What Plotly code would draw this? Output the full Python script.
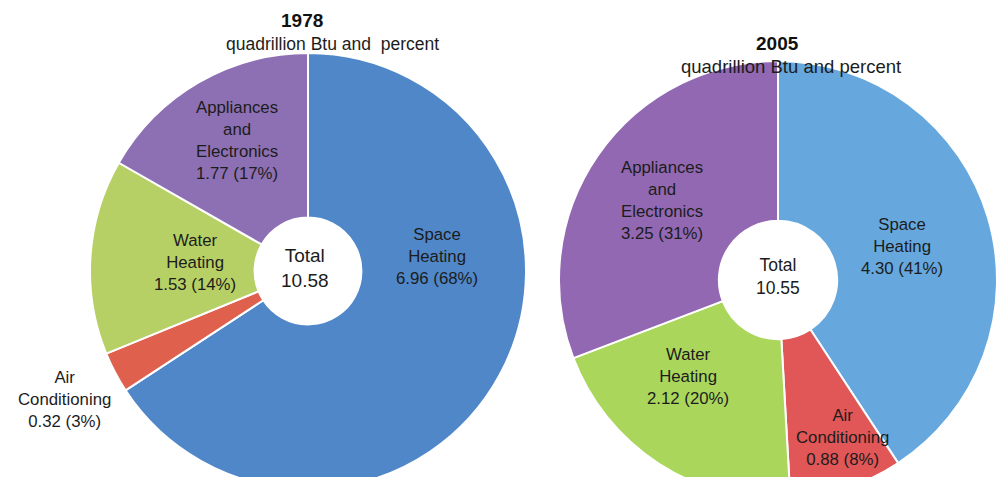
import plotly.graph_objects as go

# ---- data ----
categories = ["Space Heating", "Air Conditioning", "Water Heating", "Appliances and Electronics"]
label_lines = ["Space<br>Heating", "Air<br>Conditioning", "Water<br>Heating", "Appliances<br>and<br>Electronics"]
values_1978 = [6.96, 0.32, 1.53, 1.77]
pct_1978 = [68, 3, 14, 17]
total_1978 = 10.58
values_2005 = [4.30, 0.88, 2.12, 3.25]
pct_2005 = [41, 8, 20, 31]
total_2005 = 10.55

colors_1978 = ["#4F87C9", "#E0604E", "#B6D065", "#8D70B3"]
colors_2005 = ["#66A8DD", "#E15656", "#AAD65C", "#9168B1"]

W, H = 1001, 500
FONT = "Liberation Sans, Arial, sans-serif"


def px_dom(cx, cy, r):
    return dict(x=[(cx - r) / W, (cx + r) / W], y=[1 - (cy + r) / H, 1 - (cy - r) / H])


fig = go.Figure()
fig.add_trace(go.Pie(
    labels=categories, values=values_1978, sort=False, direction="clockwise", rotation=0,
    hole=0.245, marker=dict(colors=colors_1978, line=dict(color="white", width=2)),
    textinfo="none", hoverinfo="label+value", domain=px_dom(308, 271, 218), showlegend=False,
))
fig.add_trace(go.Pie(
    labels=categories, values=values_2005, sort=False, direction="clockwise", rotation=0,
    hole=0.27, marker=dict(colors=colors_2005, line=dict(color="white", width=2)),
    textinfo="none", hoverinfo="label+value", domain=px_dom(778, 280, 219), showlegend=False,
))


def ann(text, x, y, size, bold=False, color="#1c1c1c"):
    fig.add_annotation(
        text=f"<b>{text}</b>" if bold else text, x=x / W, y=1 - y / H, xref="paper", yref="paper",
        xanchor="center", yanchor="middle", showarrow=False,
        font=dict(family=FONT, size=size, color=color),
    )


# label positions (pixels) in category order
pos_1978 = [(437, 256), (64, 399), (195, 262), (237, 140)]
pos_2005 = [(902, 246), (842, 437), (688, 376), (662, 200)]

for lab, v, p, (x, y) in zip(label_lines, values_1978, pct_1978, pos_1978):
    ann(f"{lab}<br>{v:.2f} ({p}%)", x, y, 16.8)
for lab, v, p, (x, y) in zip(label_lines, values_2005, pct_2005, pos_2005):
    ann(f"{lab}<br>{v:.2f} ({p}%)", x, y, 16.8)

ann(f"Total<br>{total_1978:.2f}", 305, 268, 19)
ann(f"Total<br>{total_2005:.2f}", 778, 276, 17.5)

ann("1978", 302, 20, 19, bold=True, color="#111111")
ann("quadrillion Btu and  percent", 332, 44, 17.5)
ann("2005", 777, 44, 19, bold=True, color="#111111")
ann("quadrillion Btu and percent", 791, 66, 18.5)

fig.update_layout(
    width=W, height=H, margin=dict(l=0, r=0, t=0, b=0),
    paper_bgcolor="white", plot_bgcolor="white", showlegend=False,
)

fig.write_html(
    "out.html",
    post_script="document.body.style.margin='0';document.body.style.overflow='hidden';",
)
